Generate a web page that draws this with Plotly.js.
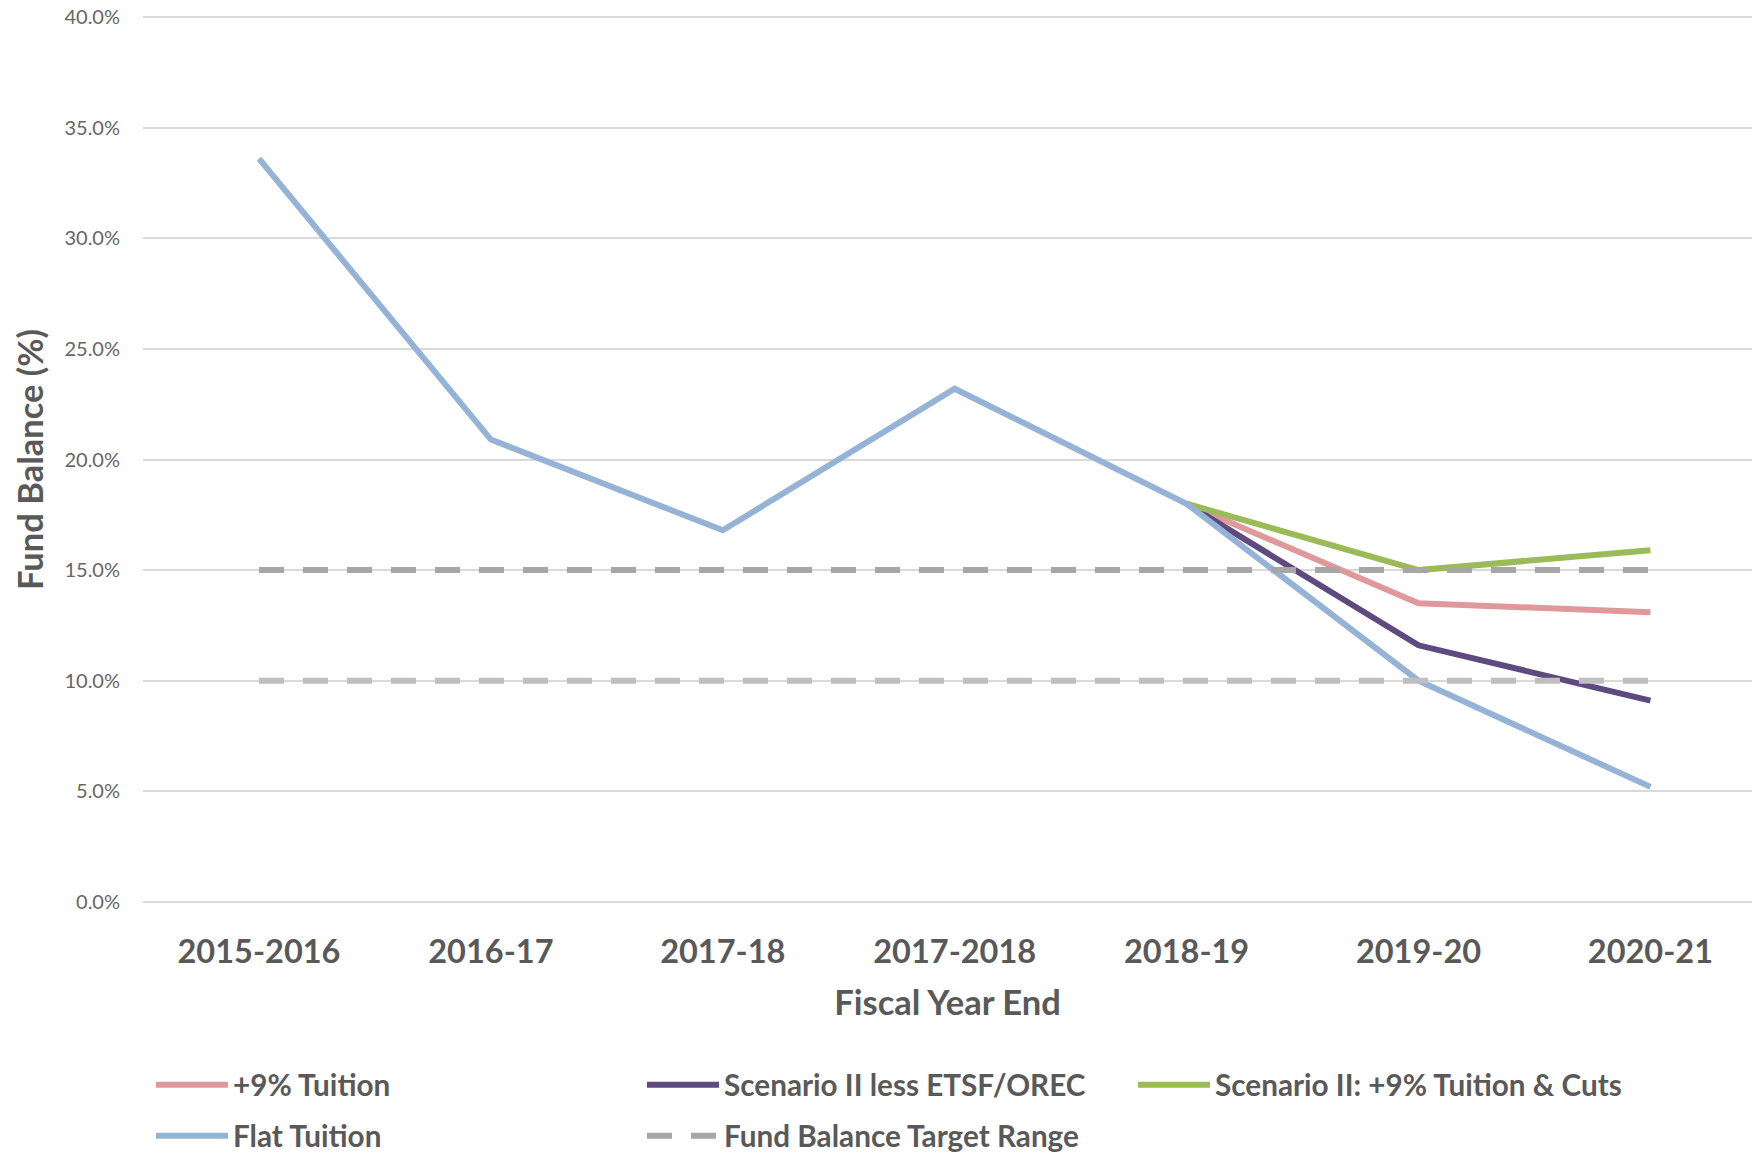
<!DOCTYPE html>
<html>
<head>
<meta charset="utf-8">
<script src="https://cdn.plot.ly/plotly-3.0.1.min.js"></script>
<style>html,body{margin:0;padding:0;background:#fff;}#chart{width:1752px;height:1156px;}</style>
</head>
<body>
<div id="chart"></div>
<script>
// Categories (fiscal year end)
const categories = ["2015-2016", "2016-17", "2017-18", "2017-2018", "2018-19", "2019-20", "2020-21"];

// Series values (Fund Balance, %)
const flatTuition      = [33.6, 20.9, 16.8, 23.2, 18.0, 10.0, 5.2];
const plus9Tuition     = [null, null, null, null, 18.0, 13.5, 13.1];
const scenIILessETSF   = [null, null, null, null, 18.0, 11.6, 9.1];
const scenIITuitionCut = [null, null, null, null, 18.0, 15.0, 15.9];
const targetHigh       = [15.0, 15.0, 15.0, 15.0, 15.0, 15.0, 15.0];
const targetLow        = [10.0, 10.0, 10.0, 10.0, 10.0, 10.0, 10.0];

// Tick labels
const yTickVals = [0, 5, 10, 15, 20, 25, 30, 35, 40];
const yTickText = ["0.0%", "5.0%", "10.0%", "15.0%", "20.0%", "25.0%", "30.0%", "35.0%", "40.0%"];

const FONT = "Lato, 'Open Sans', sans-serif";
const TXT = "#595959";

const traces = [
  {x: categories, y: plus9Tuition, name: "+9% Tuition", mode: "lines",
   line: {color: "#E0999A", width: 6}, legend: "legend"},
  {x: categories, y: scenIILessETSF, name: "Scenario II less ETSF/OREC", mode: "lines",
   line: {color: "#5E4A7E", width: 6}, legend: "legend"},
  {x: categories, y: scenIITuitionCut, name: "Scenario II: +9% Tuition & Cuts", mode: "lines",
   line: {color: "#9BBB59", width: 6}, legend: "legend"},
  {x: categories, y: flatTuition, name: "Flat Tuition", mode: "lines",
   line: {color: "#95B3D7", width: 6}, legend: "legend2"},
  {x: categories, y: targetHigh, name: "Fund Balance Target Range", mode: "lines",
   line: {color: "#A6A6A6", width: 6, dash: "25px,19px"}, legend: "legend2", legendgroup: "target"},
  {x: categories, y: targetLow, name: "Fund Balance Target Range", mode: "lines",
   line: {color: "#BFBFBF", width: 6, dash: "25px,19px"}, legend: "legend2", legendgroup: "target", showlegend: false}
];

const legendBase = {
  orientation: "h", xref: "container", yref: "container",
  x: 151/1752, xanchor: "left", yanchor: "middle",
  entrywidth: 404, entrywidthmode: "pixels", itemwidth: 72,
  traceorder: "normal", bgcolor: "rgba(0,0,0,0)",
  font: {family: FONT, size: 29.7, color: TXT, weight: "bold"}
};

const layout = {
  width: 1752, height: 1156,
  margin: {l: 143, r: 0, t: 16, b: 253},
  paper_bgcolor: "#ffffff", plot_bgcolor: "#ffffff",
  showlegend: true,
  xaxis: {
    type: "category", range: [-0.5, 6.438],
    showgrid: false, zeroline: false, showline: false, ticks: "",
    tickfont: {family: FONT, size: 32.5, color: TXT, weight: "bold"},
    ticklabelstandoff: 26,
    title: {text: "Fiscal Year End", font: {family: FONT, size: 34.5, color: TXT, weight: "bold"}, standoff: 22}
  },
  yaxis: {
    range: [-0.05, 40.05], tickvals: yTickVals, ticktext: yTickText,
    showgrid: true, gridcolor: "#D9D9D9", gridwidth: 2,
    zeroline: false, showline: false, ticks: "",
    tickfont: {family: FONT, size: 20, color: "#666666"},
    ticklabelstandoff: 22,
    title: {text: "Fund Balance (%)", font: {family: FONT, size: 34.5, color: TXT, weight: "bold"}, standoff: 10}
  },
  legend: Object.assign({}, legendBase, {y: 1 - 1085/1156}),
  legend2: Object.assign({}, legendBase, {y: 1 - 1136/1156})
};

Plotly.newPlot("chart", traces, layout, {displayModeBar: false, staticPlot: true});
</script>
</body>
</html>
